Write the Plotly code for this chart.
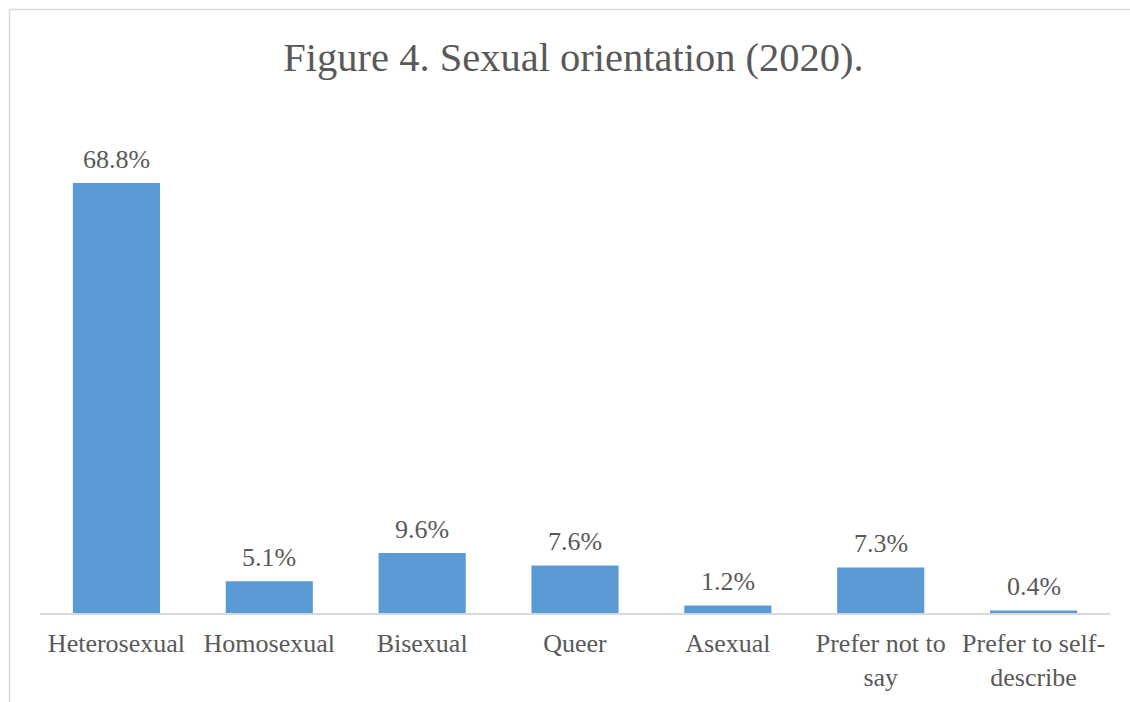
import plotly.graph_objects as go

categories = ["Heterosexual", "Homosexual", "Bisexual", "Queer", "Asexual",
              "Prefer not to<br>say", "Prefer to self-<br>describe"]
values = [68.8, 5.1, 9.6, 7.6, 1.2, 7.3, 0.4]
labels = [f"{v:.1f}%" for v in values]

FONT = "Liberation Serif, Times New Roman, serif"
GRAY = "#595959"

fig = go.Figure(go.Bar(
    x=categories, y=values,
    marker=dict(color="#5B9BD5", line=dict(width=0)),
    hoverinfo="x+y",
))

L, R, T, B = 40, 20, 113, 89
W, H = 1130, 702
pw, ph = W - L - R, H - T - B

def px_x(x):
    return (x - L) / pw

def px_y(y):
    return (H - B - y) / ph

annotations = [
    dict(x=c, y=v, text=t, showarrow=False, xref="x", yref="y",
         yanchor="middle", yshift=24,
         font=dict(family=FONT, size=26, color=GRAY))
    for c, v, t in zip(categories, values, labels)
]

fig.update_layout(
    width=W, height=H,
    margin=dict(l=L, r=R, t=T, b=B, autoexpand=False),
    paper_bgcolor="white", plot_bgcolor="white",
    bargap=0.43,
    showlegend=False,
    title=dict(text="Figure 4. Sexual orientation (2020).",
               font=dict(family=FONT, size=40.5, color=GRAY),
               x=573.5 / W, xanchor="center", xref="container",
               y=1 - 57 / H, yanchor="middle", yref="container"),
    xaxis=dict(showline=True, linecolor="#d9d9d9", linewidth=1.5,
               showgrid=False, ticks="", zeroline=False, ticklabelstandoff=6,
               automargin=False,
               tickfont=dict(family=FONT, size=26, color=GRAY)),
    yaxis=dict(range=[0, 80], visible=False, showgrid=False, zeroline=False,
               automargin=False),
    annotations=annotations,
    shapes=[
        dict(type="line", xref="paper", yref="paper",
             x0=px_x(9.5), x1=px_x(9.5), y0=px_y(9.5), y1=px_y(H + 5),
             line=dict(color="#d9d9d9", width=1.5)),
        dict(type="line", xref="paper", yref="paper",
             x0=px_x(9.5), x1=px_x(W + 5), y0=px_y(9.5), y1=px_y(9.5),
             line=dict(color="#d9d9d9", width=1.5)),
    ],
)

fig.write_html("out.html", config={"displayModeBar": False},
               post_script="document.body.style.margin='0';")
